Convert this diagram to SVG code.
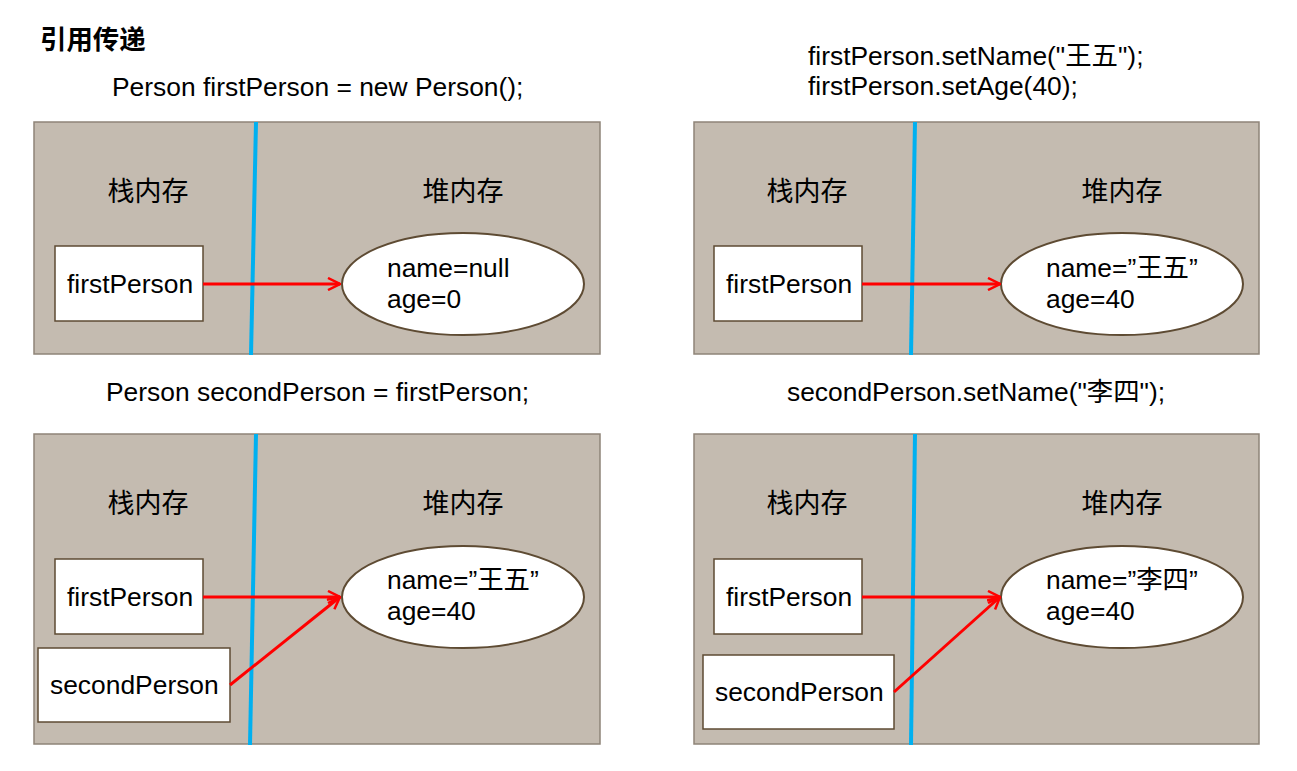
<svg xmlns="http://www.w3.org/2000/svg" width="1297" height="771" viewBox="0 0 1297 771">
<style>
text{font-family:"Liberation Sans","Noto Sans CJK SC",Arial,sans-serif;font-size:26.4px;fill:#000}
.t{font-weight:bold}
.cj{font-size:27px}
.panel{fill:#c4bbb0;stroke:#8e8478;stroke-width:1.5}
.div{stroke:#00b0f0;stroke-width:4;fill:none}
.box{fill:#fff;stroke:#5e4b33;stroke-width:1.5}
.ell{fill:#fff;stroke:#5e4b33;stroke-width:2}
.ar{stroke:#ff0000;stroke-width:3;fill:none;marker-end:url(#ah)}
</style>
<defs>
<marker id="ah" viewBox="0 0 14 14" refX="13" refY="7" markerWidth="14" markerHeight="14" markerUnits="userSpaceOnUse" orient="auto">
<polyline points="1,1 13,7 1,13" fill="none" stroke="#ff0000" stroke-width="2.5"/>
</marker>
</defs>
<rect width="1297" height="771" fill="#fff"/>
<text x="40" y="49" class="t">引用传递</text>
<text x="112" y="96">Person firstPerson = new Person();</text>
<text x="808" y="65">firstPerson.setName("王五");</text>
<text x="808" y="95">firstPerson.setAge(40);</text>
<text x="106" y="401">Person secondPerson = firstPerson;</text>
<text x="787" y="401">secondPerson.setName("李四");</text>

<g id="panel1">
<rect class="panel" x="34" y="122" width="566" height="232"/>
<line class="div" x1="256" y1="122" x2="251" y2="355"/>
<text class="cj" x="148" y="201" text-anchor="middle">栈内存</text>
<text class="cj" x="463" y="201" text-anchor="middle">堆内存</text>
</g>
<g id="p1-first"><rect class="box" x="55" y="246" width="148" height="75"/><text x="67" y="293">firstPerson</text></g>
<g id="p1-obj"><ellipse class="ell" cx="463" cy="284" rx="121" ry="51"/><text x="387" y="277">name=null</text><text x="387" y="308">age=0</text></g>

<g id="panel2">
<rect class="panel" x="694" y="122" width="565" height="232"/>
<line class="div" x1="915" y1="122" x2="911" y2="355"/>
<text class="cj" x="807" y="201" text-anchor="middle">栈内存</text>
<text class="cj" x="1122" y="201" text-anchor="middle">堆内存</text>
</g>
<g id="p2-first"><rect class="box" x="714" y="246" width="148" height="75"/><text x="726" y="293">firstPerson</text></g>
<g id="p2-obj"><ellipse class="ell" cx="1122" cy="284" rx="121" ry="51"/><text x="1046" y="277">name=”王五”</text><text x="1046" y="308">age=40</text></g>

<g id="panel3">
<rect class="panel" x="34" y="434" width="566" height="310"/>
<line class="div" x1="256" y1="434" x2="250" y2="745"/>
<text class="cj" x="148" y="513" text-anchor="middle">栈内存</text>
<text class="cj" x="463" y="513" text-anchor="middle">堆内存</text>
</g>
<g id="p3-first"><rect class="box" x="55" y="559" width="148" height="75"/><text x="67" y="606">firstPerson</text></g>
<g id="p3-second"><rect class="box" x="38" y="648" width="192" height="74"/><text x="50" y="694">secondPerson</text></g>
<g id="p3-obj"><ellipse class="ell" cx="463" cy="597" rx="121" ry="51"/><text x="387" y="589">name=”王五”</text><text x="387" y="620">age=40</text></g>

<g id="panel4">
<rect class="panel" x="694" y="434" width="565" height="310"/>
<line class="div" x1="915" y1="434" x2="911" y2="745"/>
<text class="cj" x="807" y="513" text-anchor="middle">栈内存</text>
<text class="cj" x="1122" y="513" text-anchor="middle">堆内存</text>
</g>
<g id="p4-first"><rect class="box" x="714" y="559" width="148" height="75"/><text x="726" y="606">firstPerson</text></g>
<g id="p4-second"><rect class="box" x="703" y="655" width="191" height="74"/><text x="715" y="701">secondPerson</text></g>
<g id="p4-obj"><ellipse class="ell" cx="1122" cy="597" rx="121" ry="51"/><text x="1046" y="589">name=”李四”</text><text x="1046" y="620">age=40</text></g>

<g id="connectors">
<line class="ar" x1="203" y1="284" x2="340" y2="284"/>
<line class="ar" x1="862" y1="284" x2="1000" y2="284"/>
<line class="ar" x1="203" y1="597" x2="340" y2="597"/>
<line class="ar" x1="230" y1="685" x2="340" y2="597"/>
<line class="ar" x1="862" y1="597" x2="1000" y2="597"/>
<line class="ar" x1="894" y1="692" x2="1000" y2="597"/>
</g>
</svg>
